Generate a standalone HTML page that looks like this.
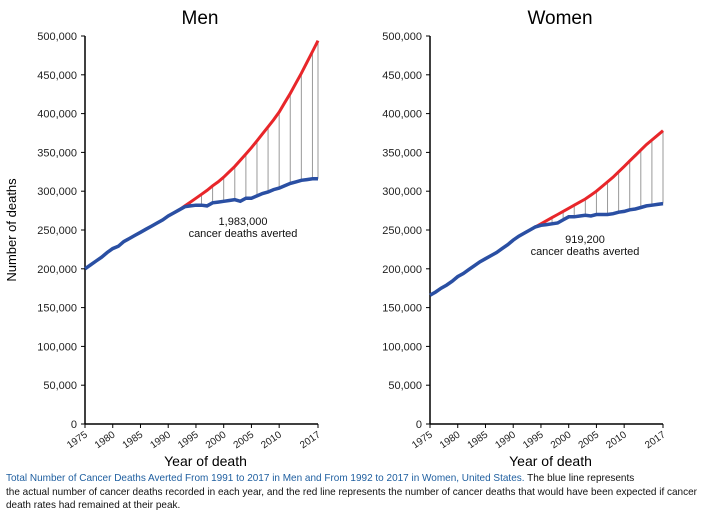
<!DOCTYPE html>
<html><head><meta charset="utf-8"><style>
body{margin:0;background:#fff;width:708px;height:520px;overflow:hidden;font-family:"Liberation Sans",Arial,sans-serif}
#cap{position:absolute;left:6px;top:472px;width:720px;font-size:10.2px;line-height:13.5px;color:#111;white-space:nowrap;transform:scaleX(0.98);transform-origin:0 0}
#cap b{font-weight:normal;color:#1f5fa0}
</style></head><body>
<svg id="chart" width="708" height="470" style="position:absolute;left:0;top:0"></svg>
<div id="cap"><b>Total Number of Cancer Deaths Averted From 1991 to 2017 in Men and From 1992 to 2017 in Women, United States.</b> The blue line represents<br>the actual number of cancer deaths recorded in each year, and the red line represents the number of cancer deaths that would have been expected if cancer<br>death rates had remained at their peak.</div>
<script>
const years=[];for(let y=1975;y<=2017;y++)years.push(y);
const yTicks=[0,50000,100000,150000,200000,250000,300000,350000,400000,450000,500000];
const xTickYears=[1975,1980,1985,1990,1995,2000,2005,2010,2017];
const menActual=[200000,205000,210000,215000,221000,226000,229000,235000,239000,243000,247000,251000,255000,259000,263000,268000,272000,276000,280000,281000,282000,282000,281000,285000,286000,287000,288000,289000,287000,291000,291000,294000,297000,299000,302000,304000,307000,310000,312000,314000,315000,316000,316000];
const menExpected=[null,null,null,null,null,null,null,null,null,null,null,null,null,null,null,null,272000,276000,281000,286000,291000,296000,301000,307000,312000,318000,325000,332000,340000,348000,356000,365000,374000,383000,392000,402000,414000,426000,439000,452000,466000,480000,494000];
const womenActual=[166000,170000,175000,179000,184000,190000,194000,199000,204000,209000,213000,217000,221000,226000,231000,237000,242000,246000,250000,254000,256000,257000,258000,259000,263000,267000,267000,268000,269000,268000,270000,270000,270000,271000,273000,274000,276000,277000,279000,281000,282000,283000,284000];
const womenExpected=[null,null,null,null,null,null,null,null,null,null,null,null,null,null,null,null,null,246000,250000,254000,258000,262000,266000,270000,274000,278000,282000,286000,290000,295000,300000,306000,312000,318000,325000,332000,339000,346000,353000,360000,366000,372000,378000];
const NS='http://www.w3.org/2000/svg';
const svg=document.getElementById('chart');
function mk(tag,attrs,parent){const e=document.createElementNS(NS,tag);for(const k in attrs)e.setAttribute(k,attrs[k]);(parent||svg).appendChild(e);return e;}
function panel(x0,x1,title,titleX,actual,expected,label1,lx,ly,name){
  const y0=424,yTop=36;
  const sx=y=>x0+(y-1975)/(2017-1975)*(x1-x0);
  const sy=v=>y0-v/500000*(y0-yTop);
  const g=mk('g',{});
  
  
  const t=mk('text',{x:titleX,y:24,'font-size':19,'text-anchor':'middle',fill:'#000'},g);t.textContent=title;
  
  const ya=mk('line',{x1:x0,y1:yTop,x2:x0,y2:y0,stroke:'#000','stroke-width':1.5},g);
  
  yTicks.forEach(v=>{
    mk('line',{x1:x0-4,x2:x0,y1:sy(v),y2:sy(v),stroke:'#000'},g);
    const tl=mk('text',{x:x0-8,y:sy(v)+4,'font-size':11,'text-anchor':'end',fill:'#222'},g);
    tl.textContent=v.toLocaleString('en-US');
    
  });
  const xa=mk('line',{x1:x0,y1:y0,x2:x1,y2:y0,stroke:'#000','stroke-width':1.5},g);
  
  xTickYears.forEach(yr=>{
    mk('line',{x1:sx(yr),x2:sx(yr),y1:y0,y2:y0+4,stroke:'#000'},g);
    const tl=mk('text',{x:sx(yr)+3,y:y0+12,'font-size':10,'text-anchor':'end',fill:'#222',transform:`rotate(-35 ${sx(yr)+3} ${y0+12})`},g);
    tl.textContent=yr;
    
  });
  const xt=mk('text',{x:(x0+x1)/2+4,y:466,'font-size':14,'text-anchor':'middle',fill:'#000'},g);xt.textContent='Year of death';
  
  const first=expected.findIndex(v=>v!=null);
  years.forEach((yr,i)=>{
    if(expected[i]==null)return;
    if((i-first)%2!==1&&i!==years.length-1)return;
    const d=mk('line',{x1:sx(yr),x2:sx(yr),y1:sy(expected[i]),y2:sy(actual[i]),stroke:'#999','stroke-width':1},g);
    
  });
  const pts=a=>years.map((yr,i)=>a[i]==null?null:sx(yr).toFixed(1)+','+sy(a[i]).toFixed(1)).filter(p=>p).join(' ');
  const r=mk('polyline',{points:pts(expected),fill:'none',stroke:'#e8262a','stroke-width':3},g);
  
  const b=mk('polyline',{points:pts(actual),fill:'none',stroke:'#2a4fa3','stroke-width':3.5},g);
  
  const a1=mk('text',{x:lx,y:ly,'font-size':11,'text-anchor':'middle',fill:'#111'},g);a1.textContent=label1;
  
  const a2=mk('text',{x:lx,y:ly+12,'font-size':11,'text-anchor':'middle',fill:'#111'},g);a2.textContent='cancer deaths averted';
  
}
panel(85,318,'Men',200,menActual,menExpected,'1,983,000',243,225,'men');
panel(430,663,'Women',560,womenActual,womenExpected,'919,200',585,243,'women');
const yl=mk('text',{x:16,y:230,'font-size':13,'text-anchor':'middle',fill:'#000',transform:'rotate(-90 16 230)'});
yl.textContent='Number of deaths';


</script>
</body></html>
